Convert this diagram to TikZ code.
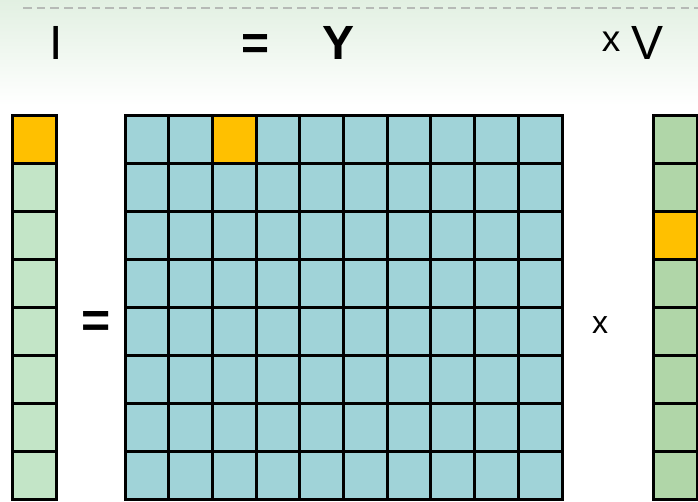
\documentclass[tikz,border=0pt]{standalone}
\usepackage{fontspec}
\setmainfont{Liberation Sans}
\definecolor{orangec}{HTML}{FFC000}
\definecolor{leftg}{RGB}{195,229,199}
\definecolor{cellblue}{RGB}{160,211,216}
\definecolor{rightg}{RGB}{176,214,168}
\definecolor{topg}{RGB}{226,240,226}
\definecolor{dashgray}{RGB}{182,186,182}
\begin{document}
\begin{tikzpicture}[x=1pt,y=-1pt,
  cell/.style={draw=black, line width=3pt, inner sep=0pt, outer sep=0pt,
    anchor=north west, minimum height=48.06pt},
  lbl/.style={inner sep=0pt, outer sep=0pt, anchor=base, text=black}]
\useasboundingbox (0,0) rectangle (698,502);
\clip (0,0) rectangle (698,502);
\fill[white] (0,0) rectangle (698,502);
\shade[top color=topg, bottom color=white] (0,0) rectangle (698,105);
\draw[dashgray, line width=2pt, dash pattern=on 8.5pt off 5.2pt] (23,8.3) -- (698,8.3);
% left column
\foreach \r in {0,...,7}{
  \ifnum\r=0 \def\fc{orangec}\else\def\fc{leftg}\fi
  \node[cell, fill=\fc, minimum width=44pt] (L\r) at (12.5,{115.5+\r*48.06}) {};
}
% main grid
\foreach \r in {0,...,7}{
  \foreach \c in {0,...,9}{
    \def\fc{cellblue}
    \ifnum\r=0 \ifnum\c=2 \def\fc{orangec}\fi\fi
    \node[cell, fill=\fc, minimum width=43.7pt] (M\r-\c) at ({125+\c*43.7},{115.5+\r*48.06}) {};
  }
}
% right column
\foreach \r in {0,...,7}{
  \ifnum\r=2 \def\fc{orangec}\else\def\fc{rightg}\fi
  \node[cell, fill=\fc, minimum width=44pt] (R\r) at (653.5,{115.5+\r*48.06}) {};
}
% header labels
\node[lbl, font=\fontsize{48}{48}\selectfont] (tI) at (56.5,59.5) {I};
\node[lbl, font=\bfseries\fontsize{48}{48}\selectfont] (tEq) at (255.5,59.5) {=};
\node[lbl, font=\bfseries\fontsize{48}{48}\selectfont] (tY) at (339,59.5) {Y};
\node[lbl, font=\fontsize{37}{37}\selectfont] (tx) at (611,51.7) {x};
\node[lbl, font=\fontsize{48}{48}\selectfont] (tV) at (647.5,59.5) {V};
% middle labels
\node[lbl, font=\bfseries\fontsize{50}{50}\selectfont] (eq) at (95.8,337) {=};
\node[lbl, font=\fontsize{32}{32}\selectfont] (x2) at (600.2,333.3) {x};
\end{tikzpicture}
\end{document}
